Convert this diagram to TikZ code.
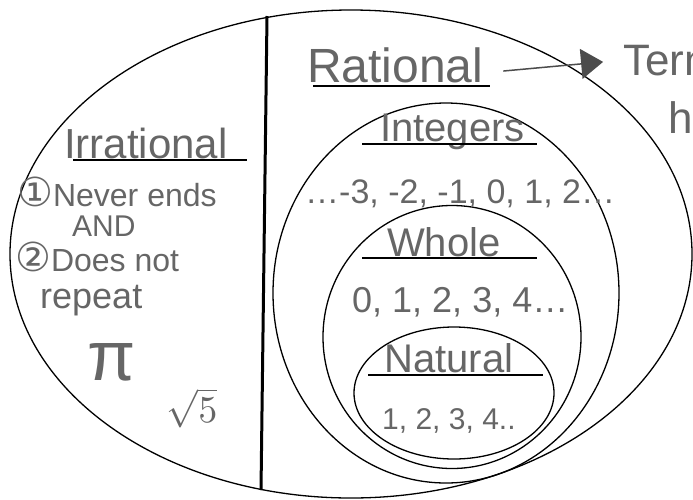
\documentclass[tikz,border=0pt]{standalone}
\usepackage{fontspec}
\setmainfont{Liberation Sans}
\newfontfamily\dejavu{DejaVu Sans}
\usepackage{graphicx}
\usepackage{tikz}
\usetikzlibrary{arrows.meta,shapes.geometric}
\newcommand{\handfont}[1]{\fontsize{#1}{#1}\selectfont}

\begin{document}
\begin{tikzpicture}[
    x=1pt, y=-1pt,
    set/.style={ellipse, draw, line width=1.3pt, inner sep=0pt},
    word/.style={inner sep=0pt, text=black!60, anchor=base west},
    uline/.style={line width=2pt},
    arrow/.style={-{Triangle[length=22pt, width=30pt]}, line width=1.5pt, black!70}
]
    \useasboundingbox (0,0) rectangle (693,499);

    \node[set, minimum width=682pt, minimum height=488pt] (real) at (351,254) {};
    \node[set, minimum width=346pt, minimum height=380pt] (integers) at (446,293) {};
    \node[set, minimum width=258pt, minimum height=263pt] (whole) at (452,337) {};
    \node[set, minimum width=200pt, minimum height=132pt] (natural) at (454,393) {};
    \draw[line width=3pt] (267,16) -- (261,490);

    \node[word, font=\handfont{48}] (rat) at (307,82) {Rational};
    \node[word, font=\handfont{44}] (term) at (623,75) {Term};
    \node[word, font=\handfont{44}] (h) at (668,133) {h};
    \draw[arrow, shorten <=20pt, shorten >=20pt] ([yshift=-8pt]rat.east) -- (term.west);

    \node[word, font=\handfont{42}] (irr) at (64,158) {Irrational};
    \node[word, font=\handfont{32}] (never) at (17,206) {{\dejavu\handfont{40}①}Never ends};
    \node[word, font=\handfont{30}] (and) at (72,236) {AND};
    \node[word, font=\handfont{32}] (repeat1) at (15,271) {{\dejavu\handfont{40}②}Does not};
    \node[word, font=\handfont{36}] (repeat2) at (40,308) {repeat};
    \node[word, anchor=center, font=\handfont{70}] (pi) at (112,362) {π};
    \node[word, anchor=center] (root) at (192,408) {\scalebox{3.8}{$\sqrt{5}$}};

    \node[word, font=\handfont{40}] (intlbl) at (380,141) {Integers};
    \node[word, font=\handfont{34}] (intnum) at (305,203) {\dots-3, -2, -1, 0, 1, 2\dots};
    \node[word, font=\handfont{40}] (wholelbl) at (387,256) {Whole};
    \node[word, font=\handfont{36}] (wholenum) at (352,312) {0, 1, 2, 3, 4\dots};
    \node[word, font=\handfont{40}] (natlbl) at (384,372) {Natural};
    \node[word, font=\handfont{30}] (natnum) at (382,429) {1, 2, 3, 4..};

    \draw[uline] (313,86) -- (490,86);
    \draw[uline] (73,160) -- (247,160);
    \draw[uline] (362,144) -- (537,144);
    \draw[uline] (362,258) -- (537,258);
    \draw[uline] (368,375) -- (543,375);
\end{tikzpicture}
\end{document}
